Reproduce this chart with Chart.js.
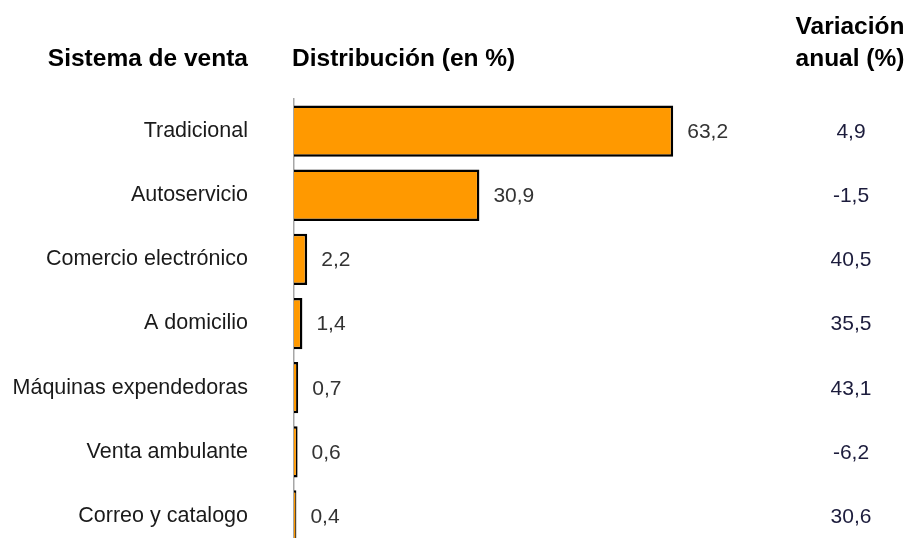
<!DOCTYPE html>
<html>
<head>
<meta charset="utf-8">
<script src="https://cdn.jsdelivr.net/npm/chart.js@4"></script>
<style>
  html, body { margin: 0; padding: 0; background: #fff; overflow: hidden; }
  canvas { display: block; }
</style>
</head>
<body>
<canvas id="ventasChart" width="910" height="561"></canvas>
<script>
// Datos del gráfico
const sistemas = ['Tradicional', 'Autoservicio', 'Comercio electrónico', 'A domicilio', 'Máquinas expendedoras', 'Venta ambulante', 'Correo y catalogo'];
const distribucion = [63.2, 30.9, 2.2, 1.4, 0.7, 0.6, 0.4];
const variacionAnual = [4.9, -1.5, 40.5, 35.5, 43.1, -6.2, 30.6];

const fmt = (v) => v.toFixed(1).replace('.', ',');
const FONT = '"Liberation Sans", Arial, sans-serif';

// Plugin para cabeceras, etiquetas de valor y columna de variación
const textosPlugin = {
    id: 'textos',
    afterDraw(chart) {
        const ctx = chart.ctx;
        const meta = chart.getDatasetMeta(0);
        ctx.save();
        ctx.textBaseline = 'middle';

        // cabeceras
        ctx.fillStyle = '#000';
        ctx.font = 'bold 24.5px ' + FONT;
        ctx.textAlign = 'right';
        ctx.fillText('Sistema de venta', 248, 59);
        ctx.textAlign = 'left';
        ctx.fillText('Distribución (en %)', 292, 59);
        ctx.textAlign = 'center';
        ctx.fillText('Variación', 850, 27);
        ctx.fillText('anual (%)', 850, 59);

        // valores de distribución y variación
        ctx.font = '21px ' + FONT;
        meta.data.forEach((bar, i) => {
            ctx.fillStyle = '#333';
            ctx.textAlign = 'left';
            ctx.fillText(fmt(distribucion[i]), bar.x + 14, bar.y + 1);
            ctx.fillStyle = '#1c1c3c';
            ctx.textAlign = 'center';
            ctx.fillText(fmt(variacionAnual[i]), 851, bar.y + 1);
        });
        ctx.restore();
    }
};

const ctx = document.getElementById('ventasChart').getContext('2d');
const chart = new Chart(ctx, {
    type: 'bar',
    data: {
        labels: sistemas,
        datasets: [{
            data: distribucion,
            backgroundColor: '#ff9900',
            borderColor: '#000',
            borderWidth: 2.5,
            barPercentage: 0.8,
            categoryPercentage: 1
        }]
    },
    options: {
        indexAxis: 'y',
        responsive: false,
        animation: false,
        layout: { padding: { top: 99, right: 16, left: 0, bottom: 0 } },
        plugins: {
            legend: { display: false },
            tooltip: { enabled: false }
        },
        scales: {
            x: { display: false, min: 0, max: 100 },
            y: {
                z: 1,
                // marcas transparentes para separar las etiquetas del eje
                grid: { display: true, drawOnChartArea: false, color: 'transparent', tickLength: 46 },
                border: { display: true, color: '#a6a6a6', width: 1.5 },
                ticks: {
                    color: '#1a1a1a',
                    padding: 0,
                    font: { family: FONT, size: 21.5 }
                },
                afterFit: (scale) => { scale.width = 294; }
            }
        }
    },
    plugins: [textosPlugin]
});
</script>
</body>
</html>
